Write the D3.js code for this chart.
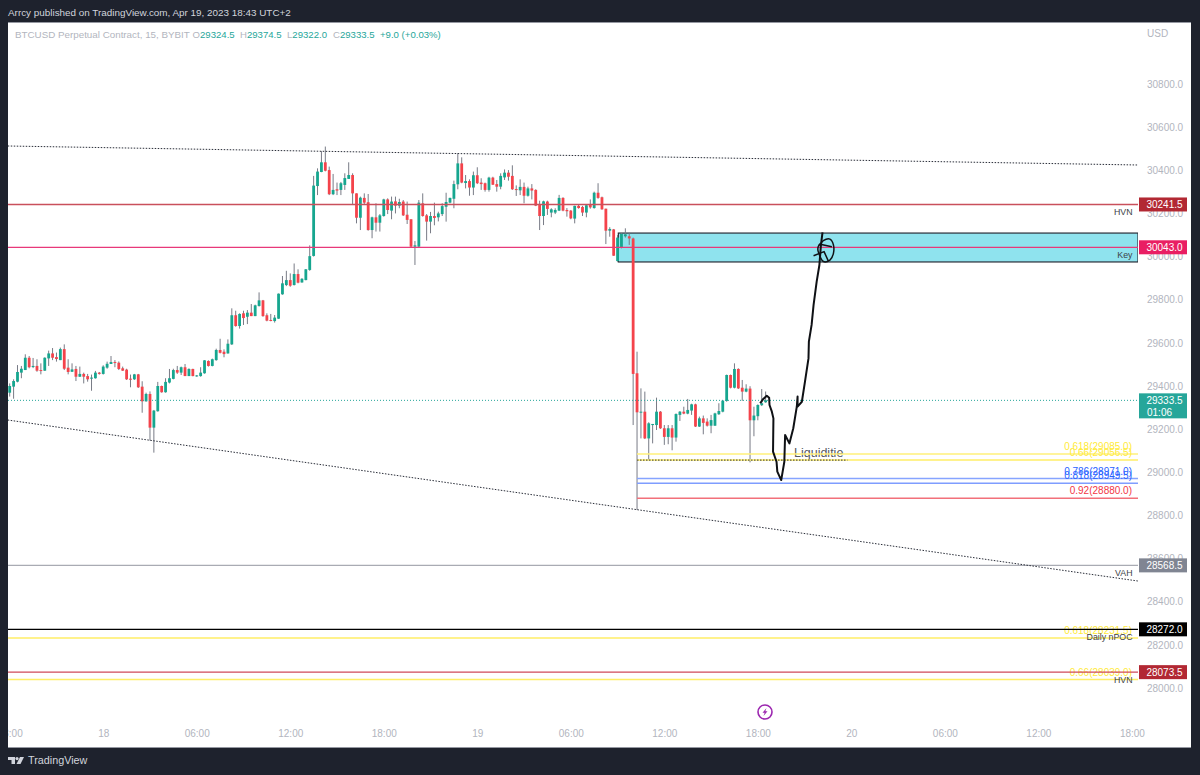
<!DOCTYPE html>
<html><head>
<meta charset="UTF-8">
<title>BTCUSD 15 - Arrcy</title>
<script src="https://d3js.org/d3.v7.min.js"></script>
<style>
  html, body { margin: 0; padding: 0; background: #1e222d; }
  svg { display: block; font-family: "Liberation Sans", Arial, sans-serif; }
</style>
</head>
<body>
<script type="text/javascript">

// candles, 15 min bars, first one at Apr 17 18:00
var opens = [
  29369,29397,29420,29462,29474,29531,29488,29493,29474,29471,
  29528,29551,29534,29520,29571,29485,29466,29479,29443,29456,
  29446,29434,29436,29462,29456,29485,29502,29511,29508,29482,
  29476,29434,29431,29454,29397,29329,29363,29207,29283,29400,
  29371,29416,29433,29474,29462,29487,29446,29479,29446,29446,
  29459,29516,29493,29520,29567,29559,29551,29593,29728,29678,
  29737,29721,29740,29724,29771,29797,29728,29706,29701,29712,
  29825,29868,29891,29868,29919,29880,29891,29938,30003,30327,
  30392,30437,30401,30289,30312,30309,30332,30360,30378,30293,
  30180,30272,30252,30123,30182,30157,30188,30265,30213,30256,
  30236,30255,30194,30173,30046,30046,30247,30191,30162,30188,
  30182,30197,30231,30250,30268,30335,30432,30341,30350,30320,
  30377,30343,30340,30309,30366,30336,30324,30367,30389,30374,
  30313,30307,30323,30282,30316,30309,30239,30188,30255,30204,
  30204,30213,30272,30216,30213,30176,30235,30230,30204,30239,
  30225,30296,30275,30222,30120,30126,29979,30041,30094,30094,
  30084,29459,29278,29281,29157,29219,29219,29281,29204,29164,
  29204,29161,29266,29281,29272,29286,29315,29212,29250,29235,
  29216,29216,29269,29281,29331,29451,29392,29479,29392,29374,
  29388,29241,29260,29311,29324.5];

var highs = [
  29412,29431,29497,29493,29547,29539,29530,29524,29505,29533,
  29564,29576,29555,29578,29593,29524,29505,29493,29490,29462,
  29456,29453,29470,29465,29496,29513,29539,29520,29514,29490,
  29480,29453,29456,29456,29422,29369,29375,29289,29419,29402,
  29436,29479,29480,29493,29490,29502,29482,29480,29451,29487,
  29520,29519,29527,29573,29619,29570,29616,29760,29749,29737,
  29749,29752,29780,29777,29834,29799,29737,29734,29729,29829,
  29910,29934,29922,29968,29941,29900,29942,30052,30374,30409,
  30489,30510,30417,30383,30343,30346,30386,30437,30386,30293,
  30278,30293,30290,30185,30247,30197,30268,30270,30278,30278,
  30268,30262,30255,30173,30072,30262,30293,30197,30207,30250,
  30208,30247,30296,30273,30352,30479,30460,30378,30358,30394,
  30414,30363,30343,30370,30370,30355,30386,30404,30401,30423,
  30330,30358,30343,30324,30336,30312,30259,30259,30259,30224,
  30224,30286,30275,30225,30216,30236,30242,30235,30242,30265,
  30301,30340,30278,30222,30136,30128,30100,30108,30131,30108,
  30088,29559,29389,29374,29232,29224,29346,29284,29219,29219,
  29219,29273,29284,29304,29340,29318,29318,29258,29263,29250,
  29266,29276,29320,29335,29453,29453,29505,29482,29428,29408,
  29399,29304,29315,29386,29374.5];

var lows = [
  29351,29341,29417,29436,29474,29482,29483,29466,29454,29470,
  29493,29520,29513,29520,29474,29454,29465,29423,29442,29412,
  29420,29378,29434,29453,29453,29480,29502,29487,29474,29470,
  29428,29394,29428,29391,29276,29327,29147,29091,29281,29369,
  29369,29412,29431,29456,29451,29446,29446,29445,29443,29443,
  29457,29490,29491,29517,29551,29533,29550,29590,29675,29666,
  29683,29687,29724,29724,29768,29721,29700,29700,29694,29711,
  29823,29863,29860,29866,29876,29879,29890,29934,30000,30285,
  30391,30395,30285,30285,30285,30285,30309,30360,30239,30154,
  30123,30239,30120,30085,30116,30116,30185,30197,30173,30200,
  30224,30188,30151,30043,29961,30043,30185,30074,30108,30145,
  30163,30188,30162,30247,30224,30312,30340,30316,30282,30285,
  30336,30309,30301,30301,30332,30301,30312,30355,30352,30309,
  30281,30285,30247,30278,30265,30234,30123,30146,30193,30182,
  30197,30211,30210,30185,30173,30154,30222,30188,30182,30222,
  30222,30268,30217,30058,30092,30003,29976,30038,30088,30054,
  29219,28825,29157,29154,29055,29134,29196,29201,29127,29130,
  29102,29142,29238,29269,29269,29266,29210,29210,29176,29212,
  29181,29215,29266,29278,29327,29389,29389,29386,29331,29371,
  29046,29167,29241,29307,29322];

var closes = [
  29400,29423,29465,29480,29531,29487,29493,29471,29471,29531,
  29551,29531,29525,29571,29480,29465,29477,29443,29456,29443,
  29431,29439,29462,29456,29490,29503,29511,29508,29479,29471,
  29431,29429,29454,29394,29329,29363,29207,29286,29400,29371,
  29419,29436,29474,29462,29487,29446,29479,29446,29449,29462,
  29519,29493,29524,29567,29554,29548,29596,29728,29678,29734,
  29715,29740,29724,29774,29797,29724,29703,29703,29717,29828,
  29876,29891,29865,29919,29879,29897,29941,30002,30329,30394,
  30437,30398,30289,30309,30306,30340,30364,30378,30293,30180,
  30273,30250,30123,30182,30157,30191,30265,30216,30255,30236,
  30253,30191,30170,30046,30052,30250,30188,30162,30188,30179,
  30200,30234,30253,30272,30336,30432,30343,30350,30320,30377,
  30340,30336,30309,30366,30333,30324,30374,30389,30370,30312,
  30309,30323,30282,30316,30306,30236,30188,30256,30221,30219,
  30216,30272,30213,30210,30177,30235,30225,30204,30238,30228,
  30296,30272,30219,30120,30128,30004,30088,30105,30103,30084,
  29456,29278,29281,29157,29227,29224,29281,29204,29164,29204,
  29161,29270,29281,29272,29289,29315,29212,29250,29229,29216,
  29242,29273,29284,29332,29451,29392,29479,29389,29374,29388,
  29241,29263,29312,29320,29333.5];

// price axis and time axis labels
var priceTicks = [28000,28200,28400,28600,28800,29000,29200,29400,29600,29800,30000,30200,30400,30600,30800];
var timeTickHours = [0,6,12,18,24,30,36,42,48,54,60,66,72];   // hours after Apr 17 18:00
var timeTickLabels = ["18:00","18","06:00","12:00","18:00","19","06:00","12:00","18:00","20","06:00","12:00","18:00"];

// horizontal levels with a tag on the price axis
var levelPrices = [30241.5, 30043.0, 28568.5, 28272.0, 28073.5];
var levelNames = ["HVN", "Key", "VAH", "Daily nPOC", "HVN"];
var levelColors = ["#b22833", "#e91e63", "#808592", "#000000", "#b22833"];
var levelLineColors = ["#c9505c", "#e8397a", "#a9abb3", "#000000", "#cf4a58"];

// fib levels
var fibLabels = ["0.618(29085.0)", "0.66(29056.5)", "0.786(28971.0)", "0.818(28949.5)", "0.92(28880.0)", "0.618(28231.5)", "0.66(28039.0)"];
var fibPrices = [29085.0, 29056.5, 28971.0, 28949.5, 28880.0, 28231.5, 28039.0];
var fibColors = ["#ffeb3b", "#ffeb3b", "#2962ff", "#2962ff", "#f23645", "#ffeb3b", "#ffeb3b"];
var fibLineColors = ["#fff07a", "#ffee66", "#86a4ff", "#7f9dff", "#f2707a", "#ffee66", "#ffee66"];
var fibStartBars = [161, 161, 161, 161, 161, -1, -1];

// zone and dotted lines, [bar, price]
var keyZone = [156.2, 30109, 29975];
var upperTrend = [[-0.5, 30512.6], [289.6, 30424.5]];
var lowerTrend = [[-0.5, 29242.3], [289.6, 28495.8]];
var liquidityLine = [[161, 29056.5], [215, 29056.5]];

// hand drawn path on the chart, [bar, price]
var sketchMain = [[192.6,29320],[193.4,29340],[194.3,29355],[194.9,29346],[195.0,29312],[195.6,29281],[196.0,29250],
  [195.9,29096],[196.8,29049],[197.0,29003],[198.0,28964],[198.8,29049],[199.0,29173],[200.1,29134],[201.1,29204],
  [202.0,29304],[202.2,29351],[202.2,29304],[203.3,29327],[204.1,29420],[205.0,29528],[205.1,29606],[205.8,29683],
  [206.3,29775],[207.1,29884],[207.8,29961],[208.2,30054],[208.6,30112]];
var sketchCircle = [[208.0,30054],[208.8,30074],[210.5,30081],[211.4,30054],[211.4,30015],[210.5,29984],[208.7,29979],
  [207.5,30023],[207.5,30046],[208.1,30061]];
var sketchTickA = [[208.0,30057],[211.0,30046]];
var sketchTickB = [[206.3,30004],[209.0,30023],[210.1,29979]];

var width = 1200, height = 775;
var chartLeft = 8, chartTop = 23, chartBottom = 747, paneRight = 1138, chartRight = 1191;

var startTime = Date.UTC(2023, 3, 17, 18, 0);
function barTime(i) { return new Date(startTime + i * 15 * 60000); }

var xScale = d3.scaleUtc()
    .domain([barTime(0), barTime(288)])
    .range([9.7, 1131.9]);

var yScale = d3.scaleLinear()
    .domain([28000, 30800])
    .range([688, 84]);

var bars = d3.range(opens.length).map(function(i) {
  return {i: i, o: opens[i], h: highs[i], l: lows[i], c: closes[i]};
});

var svg = d3.select("body").append("svg")
    .attr("width", width)
    .attr("height", height);

svg.append("rect")
    .attr("width", width).attr("height", height)
    .attr("fill", "#1e222d");

svg.append("rect")
    .attr("x", chartLeft).attr("y", chartTop)
    .attr("width", chartRight - chartLeft).attr("height", chartBottom - chartTop)
    .attr("fill", "#ffffff");

svg.append("path")
    .attr("d", "M" + chartLeft + "," + (chartTop - 0.5) + "H" + chartRight + "M" + chartLeft + "," + (chartBottom + 0.5) + "H" + chartRight)
    .attr("stroke", "#9598a1")
    .attr("stroke-width", 1);

var defs = svg.append("defs");
defs.append("clipPath").attr("id", "pane").append("rect")
    .attr("x", chartLeft).attr("y", chartTop)
    .attr("width", paneRight - chartLeft).attr("height", chartBottom - chartTop);
// the time labels may run past the pane on the right, not on the left
defs.append("clipPath").attr("id", "timeClip").append("rect")
    .attr("x", chartLeft).attr("y", chartTop)
    .attr("width", chartRight - chartLeft).attr("height", chartBottom - chartTop);

var pane = svg.append("g").attr("clip-path", "url(#pane)");

var line = d3.line()
    .x(function(d) { return xScale(barTime(d[0])); })
    .y(function(d) { return yScale(d[1]); });

// time axis
var xAxis = d3.axisBottom(xScale)
    .tickValues(timeTickHours.map(function(h) { return barTime(h * 4); }))
    .tickFormat(function(d, i) { return timeTickLabels[i]; })
    .tickSize(0);

var xAxisG = svg.append("g")
    .attr("clip-path", "url(#timeClip)")
    .append("g")
    .attr("transform", "translate(0,726)")
    .call(xAxis);
xAxisG.select(".domain").remove();
xAxisG.selectAll("text")
    .attr("y", 4)
    .attr("dy", "0.71em")
    .attr("fill", "#b2b5be")
    .style("font-size", "10px");

// key zone
pane.append("rect")
    .attr("x", xScale(barTime(keyZone[0])))
    .attr("y", yScale(keyZone[1]))
    .attr("width", paneRight - xScale(barTime(keyZone[0])))
    .attr("height", yScale(keyZone[2]) - yScale(keyZone[1]))
    .attr("fill", "#8fe3ee")
    .attr("stroke", "#2a2e39")
    .attr("stroke-width", 1.2);

// candles
var candles = pane.append("g").selectAll("g")
    .data(bars)
    .enter().append("g");

candles.append("line")
    .attr("x1", function(d) { return xScale(barTime(d.i)); })
    .attr("x2", function(d) { return xScale(barTime(d.i)); })
    .attr("y1", function(d) { return yScale(d.h); })
    .attr("y2", function(d) { return yScale(d.l); })
    .attr("stroke", "#787b86")
    .attr("stroke-width", 1);

candles.append("rect")
    .attr("x", function(d) { return xScale(barTime(d.i)) - 1.4; })
    .attr("width", 2.8)
    .attr("y", function(d) { return yScale(Math.max(d.o, d.c)); })
    .attr("height", function(d) { return Math.max(1, Math.abs(yScale(d.o) - yScale(d.c))); })
    .attr("fill", function(d) { return d.c >= d.o ? "#16a68f" : "#f4434b"; });

// text that sits under the fib lines
pane.append("text")
    .attr("x", 794).attr("y", yScale(29085) + 3)
    .attr("fill", "#55585f")
    .style("font-size", "12.5px")
    .text("Liquiditie");

// last price line
pane.append("line")
    .attr("x1", chartLeft).attr("x2", paneRight)
    .attr("y1", yScale(closes[closes.length - 1])).attr("y2", yScale(closes[closes.length - 1]))
    .attr("stroke", "#26a69a")
    .attr("stroke-width", 1)
    .attr("stroke-dasharray", "1 2");

// fib lines and their labels
pane.selectAll(".fib").data(fibPrices).enter().append("line")
    .attr("class", "fib")
    .attr("x1", function(d, i) { return xScale(barTime(fibStartBars[i])); })
    .attr("x2", paneRight)
    .attr("y1", function(d) { return yScale(d); })
    .attr("y2", function(d) { return yScale(d); })
    .attr("stroke", function(d, i) { return fibLineColors[i]; })
    .attr("stroke-width", 1.5);

pane.selectAll(".fibLabel").data(fibPrices).enter().append("text")
    .attr("class", "fibLabel")
    .attr("x", 1132)
    .attr("y", function(d) { return yScale(d) - 4; })
    .attr("text-anchor", "end")
    .attr("fill", function(d, i) { return fibColors[i]; })
    .style("font-size", "10px")
    .text(function(d, i) { return fibLabels[i]; });

// level lines
pane.selectAll(".level").data(levelPrices).enter().append("line")
    .attr("class", "level")
    .attr("x1", chartLeft).attr("x2", paneRight)
    .attr("y1", function(d) { return yScale(d); })
    .attr("y2", function(d) { return yScale(d); })
    .attr("stroke", function(d, i) { return levelLineColors[i]; })
    .attr("stroke-width", 1.3);

pane.selectAll(".levelName").data(levelPrices).enter().append("text")
    .attr("class", "levelName")
    .attr("x", 1132.5)
    .attr("y", function(d) { return yScale(d) + 11; })
    .attr("text-anchor", "end")
    .attr("fill", "#3c3f47")
    .style("font-size", "8.8px")
    .text(function(d, i) { return levelNames[i]; });

// dotted trend lines
[upperTrend, lowerTrend, liquidityLine].forEach(function(pts) {
  pane.append("path")
      .attr("d", line(pts))
      .attr("fill", "none")
      .attr("stroke", "#2a2e39")
      .attr("stroke-width", 1)
      .attr("stroke-dasharray", "1.5 1.5");
});

// the hand drawing
[sketchMain, sketchCircle, sketchTickA, sketchTickB].forEach(function(pts, i) {
  pane.append("path")
      .attr("d", (i == 1 ? line.curve(d3.curveCardinalClosed) : line.curve(d3.curveLinear))(pts))
      .attr("fill", "none")
      .attr("stroke", "#0f1115")
      .attr("stroke-width", i == 0 ? 2 : 1.5)
      .attr("stroke-linejoin", "round");
});
line.curve(d3.curveLinear);

// price axis
var yAxis = d3.axisRight(yScale)
    .tickValues(priceTicks)
    .tickFormat(d3.format(".1f"))
    .tickSize(0);

var yAxisG = svg.append("g")
    .attr("transform", "translate(1147,0)")
    .call(yAxis);
yAxisG.select(".domain").remove();
yAxisG.selectAll("text")
    .attr("x", 0)
    .attr("fill", "#b2b5be")
    .style("font-size", "10px");

svg.append("text")
    .attr("x", 1147).attr("y", 37)
    .attr("fill", "#b2b5be")
    .style("font-size", "10px")
    .text("USD");

// price tags
svg.selectAll(".tag").data(levelPrices).enter().append("rect")
    .attr("class", "tag")
    .attr("x", 1139).attr("width", 48)
    .attr("y", function(d) { return yScale(d) - 7; })
    .attr("height", 14)
    .attr("fill", function(d, i) { return levelColors[i]; });

svg.selectAll(".tagText").data(levelPrices).enter().append("text")
    .attr("class", "tagText")
    .attr("x", 1164.5).attr("text-anchor", "middle")
    .attr("y", function(d) { return yScale(d) + 3.6; })
    .attr("fill", "#ffffff")
    .style("font-size", "10px")
    .text(function(d) { return d3.format(".1f")(d); });

var lastY = yScale(closes[closes.length - 1]);
svg.append("rect")
    .attr("x", 1139).attr("width", 48)
    .attr("y", lastY - 7).attr("height", 25)
    .attr("fill", "#26a69a");
svg.append("text")
    .attr("x", 1164.5).attr("y", lastY + 4).attr("text-anchor", "middle")
    .attr("fill", "#ffffff").style("font-size", "10px")
    .text(d3.format(".1f")(closes[closes.length - 1]));
svg.append("text")
    .attr("x", 1147).attr("y", lastY + 15.5)
    .attr("fill", "#ffffff").style("font-size", "10px")
    .text("01:06");

// header lines
svg.append("text")
    .attr("x", 8).attr("y", 16)
    .attr("fill", "#d1d4dc")
    .style("font-size", "9.9px")
    .text("Arrcy published on TradingView.com, Apr 19, 2023 18:43 UTC+2");

svg.append("text")
    .attr("x", 15).attr("y", 38)
    .attr("fill", "#b2b5be")
    .style("font-size", "9.8px")
    .text("BTCUSD Perpetual Contract, 15, BYBIT");

var legendKeys = ["O", "H", "L", "C"];
var legendKeyX = [192.5, 240, 287, 333];
var lastBar = bars[bars.length - 1];
var legendValues = [lastBar.o, lastBar.h, lastBar.l, lastBar.c];

legendKeys.forEach(function(k, i) {
  var t = svg.append("text")
      .attr("x", legendKeyX[i]).attr("y", 38)
      .style("font-size", "9.6px");
  t.append("tspan").attr("fill", "#b2b5be").text(k);
  t.append("tspan").attr("fill", "#26a69a").text(d3.format(".1f")(legendValues[i]));
});

svg.append("text")
    .attr("x", 380).attr("y", 38)
    .attr("fill", "#26a69a")
    .style("font-size", "9.6px")
    .text("+9.0 (+0.03%)");

// purple lightning badge under the chart
var badge = svg.append("g").attr("transform", "translate(765,712)");
badge.append("circle")
    .attr("r", 7)
    .attr("fill", "#ffffff")
    .attr("stroke", "#9c27b0")
    .attr("stroke-width", 1.6);
badge.append("path")
    .attr("d", "M1.5,-4 L-2.5,0.8 L-0.3,0.8 L-1.5,4 L2.5,-0.8 L0.3,-0.8 Z")
    .attr("fill", "#9c27b0");

// footer logo
var logo = svg.append("g").attr("transform", "translate(8,757)").attr("fill", "#d1d4dc");
logo.append("path").attr("d", "M0,0 H7 V7 H3.5 V3 H0 Z");
logo.append("circle").attr("cx", 9).attr("cy", 1.6).attr("r", 1.6);
logo.append("path").attr("d", "M12,0 H16 L12.5,7 H8.5 Z");

svg.append("text")
    .attr("x", 28).attr("y", 764)
    .attr("fill", "#d1d4dc")
    .style("font-size", "10.8px")
    .text("TradingView");

</script>
</body>
</html>
